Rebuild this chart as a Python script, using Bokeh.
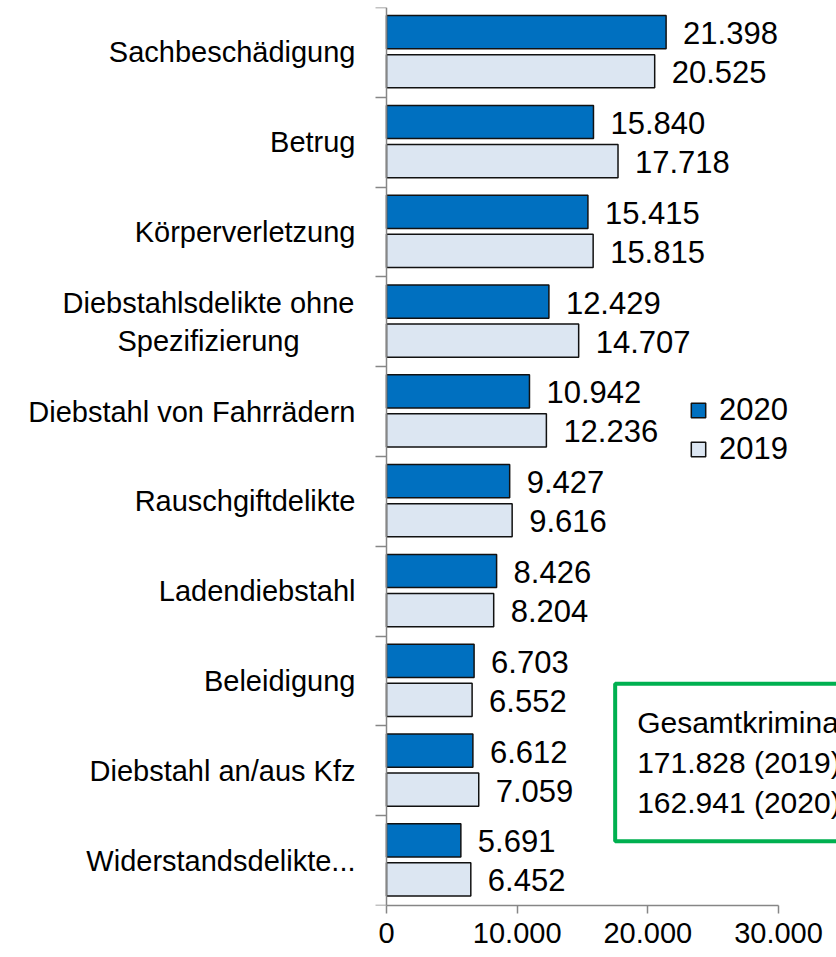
from bokeh.plotting import figure
from bokeh.models import (Range1d, FixedTicker, LabelSet, Label, Legend, LegendItem,
                          ColumnDataSource, LinearAxis)
from bokeh.core.properties import value
from bokeh.embed import file_html
from bokeh.resources import INLINE

# ---- data ----
categories = ["Sachbeschädigung", "Betrug", "Körperverletzung",
              "Diebstahlsdelikte ohne\nSpezifizierung", "Diebstahl von Fahrrädern",
              "Rauschgiftdelikte", "Ladendiebstahl", "Beleidigung",
              "Diebstahl an/aus Kfz", "Widerstandsdelikte..."]
values_2020 = [21398, 15840, 15415, 12429, 10942, 9427, 8426, 6703, 6612, 5691]
values_2019 = [20525, 17718, 15815, 14707, 12236, 9616, 8204, 6552, 7059, 6452]
series_names = ["2020", "2019"]
x_ticks = [0, 10000, 20000, 30000]
x_tick_labels = ["0", "10.000", "20.000", "30.000"]
total_title = "Gesamtkriminalität"
total_2019 = 171828
total_2020 = 162941

# ---- styles / layout ----
FONT = "Liberation Sans"
DARK = "#0070C0"
LIGHT = "#DCE6F2"
AXIS = "#868686"
GREEN = "#00B050"
W, FRAME_H, TOP, BOTTOM = 836, 898, 7, 52
AXIS_PX, AXIS_LEN_PX = 386, 392          # where value 0 sits, length of 0..30000
LINE_PX = 38                              # line spacing of wrapped category labels
X_MAX = x_ticks[-1]
px_per_unit = AXIS_LEN_PX / X_MAX


def de(n):
    return f"{n:,}".replace(",", ".")


n = len(categories)
idx = list(range(n))
y_px_per_cat = FRAME_H / n
y20 = [i + 0.275 for i in idx]
y19 = [i + 0.71 for i in idx]

src20 = ColumnDataSource(dict(y=y20, v=values_2020, t=[de(v) for v in values_2020]))
src19 = ColumnDataSource(dict(y=y19, v=values_2019, t=[de(v) for v in values_2019]))

p = figure(width=W, height=TOP + FRAME_H + BOTTOM,
           x_range=Range1d(-AXIS_PX / px_per_unit, (W - AXIS_PX) / px_per_unit),
           y_range=Range1d(n, 0), y_axis_location=None,
           output_backend="svg", toolbar_location=None,
           min_border_left=0, min_border_right=0, min_border_top=TOP, min_border_bottom=BOTTOM)
p.outline_line_color = None
p.xgrid.visible = False
p.ygrid.visible = False
p.background_fill_color = "white"
p.border_fill_color = "white"

r20 = p.hbar(y="y", right="v", left=0, height=0.37, source=src20,
             fill_color=DARK, line_color="#111111", line_width=1.5)
r19 = p.hbar(y="y", right="v", left=0, height=0.37, source=src19,
             fill_color=LIGHT, line_color="#111111", line_width=1.5)

# x axis
xa = p.xaxis[0]
xa.ticker = FixedTicker(ticks=x_ticks, minor_ticks=[])
xa.bounds = (x_ticks[0], x_ticks[-1])
xa.major_label_overrides = {t: l for t, l in zip(x_ticks, x_tick_labels)}
xa.axis_line_color = AXIS
xa.axis_line_width = 1.5
xa.major_tick_line_color = AXIS
xa.major_tick_line_width = 1.5
xa.major_tick_out = 8
xa.major_tick_in = 0
xa.major_label_standoff = 9
xa.major_label_text_font = FONT
xa.major_label_text_font_size = "29px"
xa.major_label_text_color = "black"

# y axis at value 0, ticks at category boundaries
ya = LinearAxis(fixed_location=0, ticker=FixedTicker(ticks=list(range(n + 1)), minor_ticks=[]),
                major_label_overrides={i: "" for i in range(n + 1)},
                axis_line_color=AXIS, axis_line_width=1.5,
                major_tick_line_color=AXIS, major_tick_line_width=1.5,
                major_tick_out=11, major_tick_in=0, major_label_text_font_size="1px")
p.add_layout(ya, "left")

# category labels (single-line: right aligned; wrapped: lines centred)
single = [i for i in idx if "\n" not in categories[i]]
cat_single = ColumnDataSource(dict(x=[0] * len(single), y=[i + 0.5 for i in single],
                                   t=[categories[i] for i in single]))
mx, my, mt = [], [], []
for i in idx:
    lines = categories[i].split("\n")
    if len(lines) < 2:
        continue
    for k, ln in enumerate(lines):
        mx.append(0)
        my.append(i + 0.5 + (k - (len(lines) - 1) / 2) * LINE_PX / y_px_per_cat)
        mt.append(ln)
cat_multi = ColumnDataSource(dict(x=mx, y=my, t=mt))
p.add_layout(LabelSet(x="x", y="y", text="t", source=cat_single, x_offset=-31,
                      text_align="right", text_baseline="middle",
                      text_font=value(FONT), text_font_size=value("29px"), text_color="black"))
p.add_layout(LabelSet(x="x", y="y", text="t", source=cat_multi, x_offset=-178,
                      text_align="center", text_baseline="middle",
                      text_font=value(FONT), text_font_size=value("29px"), text_color="black"))

# value labels
for s in (src20, src19):
    p.add_layout(LabelSet(x="v", y="y", text="t", source=s, x_offset=17, y_offset=-1,
                          text_align="left", text_baseline="middle",
                          text_font=value(FONT), text_font_size=value("31px"),
                          text_color="black"))

# legend
legend = Legend(items=[LegendItem(label=series_names[0], renderers=[r20]),
                       LegendItem(label=series_names[1], renderers=[r19])],
                location=(689, 438))
legend.border_line_color = None
legend.background_fill_alpha = 0
legend.glyph_width = 18
legend.glyph_height = 18
legend.label_standoff = 12
legend.padding = 0
legend.margin = 0
legend.spacing = 3
legend.label_text_font = FONT
legend.label_text_font_size = "31px"
legend.label_text_color = "black"
p.add_layout(legend)

# total box (its right part runs past the page edge, as in the original)
box = Label(x=17500, y=7.53, text=f"{total_title}\n{de(total_2019)} (2019)\n{de(total_2020)} (2020)",
            text_align="left", text_baseline="top", text_font=FONT, text_font_size="30px",
            text_line_height=1.22, text_color="black",
            border_line_color=GREEN, border_line_width=4, background_fill_color="white",
            padding=(22, 22))
p.add_layout(box)

open("out.html", "w").write(file_html(p, INLINE))
